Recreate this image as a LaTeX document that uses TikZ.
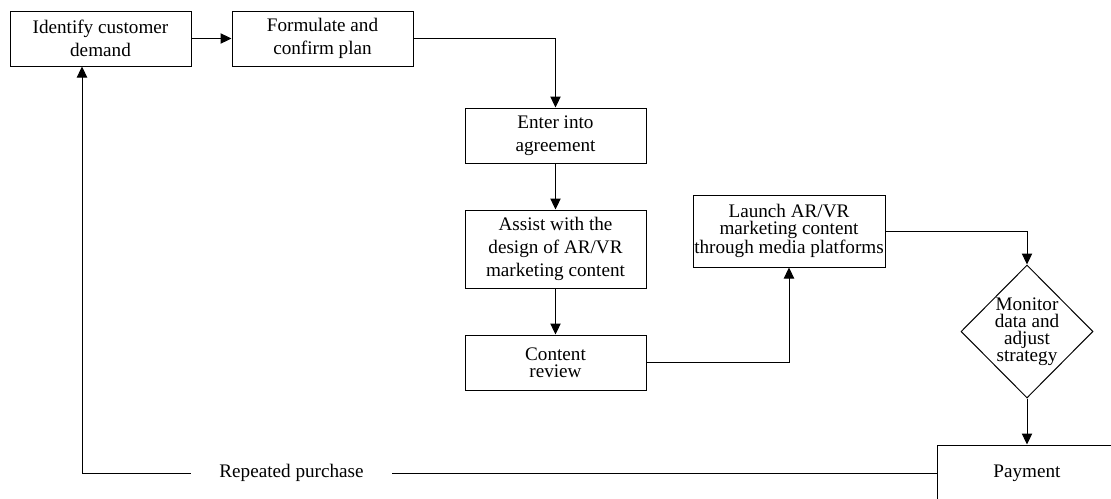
\documentclass[tikz,border=0pt]{standalone}
\usepackage{fontspec}
\setmainfont{Liberation Serif}
\usetikzlibrary{arrows.meta, shapes.geometric}

\begin{document}
\begin{tikzpicture}[x=0.6pt, y=-0.6pt,
    every node/.style={font=\fontsize{11.5}{13.8}\selectfont},
    box/.style={draw, line width=0.6pt, align=center, inner sep=0pt, minimum width=108.6pt, minimum height=33pt},
    tight/.style={align=center, font=\fontsize{11.5}{10.2}\selectfont},
    decision/.style={draw, diamond, line width=0.6pt, inner sep=0pt, minimum width=79.2pt, minimum height=79.8pt},
    arr/.style={-{Triangle[length=6.6pt, width=6.2pt]}, line width=0.6pt},
    con/.style={line width=0.6pt}]
            \clip (0,0) rectangle (1111,498);
            \node[box] (iden) at (100.5,38.5) {Identify customer\\demand};
            \node[box] (form) at (322.5,38.5) {Formulate and\\confirm plan};
            \node[box] (enter) at (555.5,135.5) {Enter into\\agreement};
            \node[box, minimum height=46.8pt] (assist) at (555.5,249) {Assist with the\\design of AR/VR\\marketing content};
            \node[box, tight] (review) at (555.5,362.5) {Content\\review};
            \node[box, tight, minimum width=115.2pt, minimum height=43.2pt] (launch) at (789,231) {Launch AR/VR\\marketing content\\through media platforms};
            \node[decision] (mon) at (1027,331.5) {};
            \node[tight] (montxt) at (mon) {Monitor\\data and\\adjust\\strategy};
            \node[box, minimum width=108pt, minimum height=33.6pt] (pay) at (1027,473) {Payment};
            \node[minimum width=120.6pt, inner sep=0pt] (rp) at (291.5,473) {Repeated purchase};

            \draw[arr] (iden) -- (form);
            \draw[arr] (form) -| (enter);
            \draw[arr] (enter) -- (assist);
            \draw[arr] (assist) -- (review);
            \draw[arr] (review) -| (launch);
            \draw[arr] (launch) -| (mon);
            \draw[arr] (mon) -- (pay);
            \draw[con] (pay) -- (rp);
            \draw[arr] (rp) -| ([xshift=-11.1pt]iden.south);
\end{tikzpicture}
\end{document}
